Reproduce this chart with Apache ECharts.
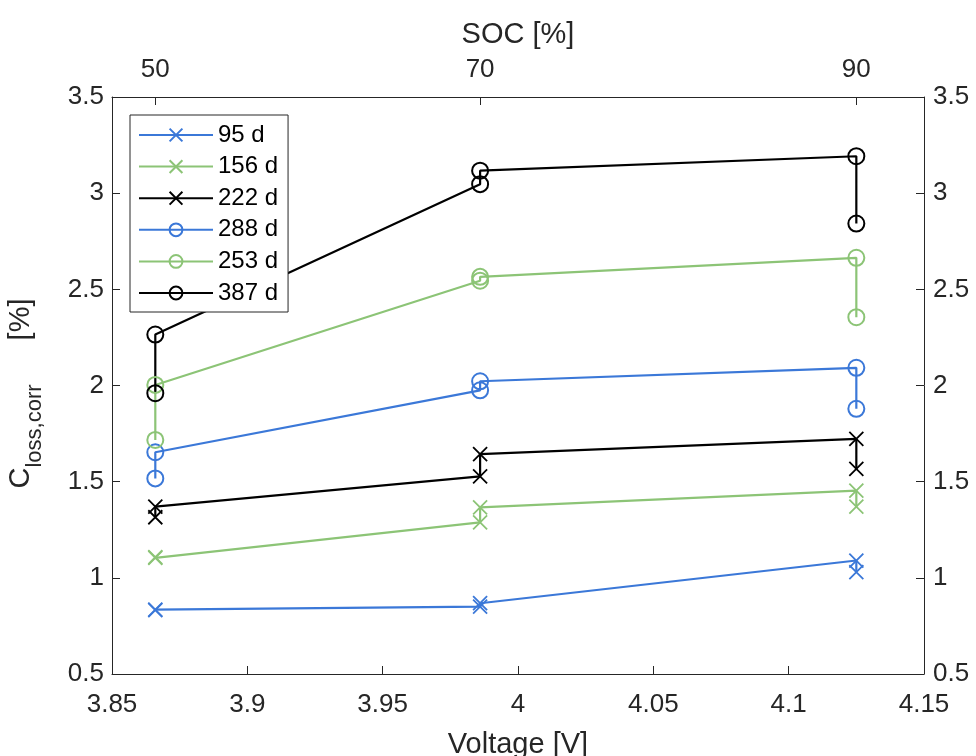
<!DOCTYPE html>
<html>
<head>
<meta charset="utf-8">
<script src="https://cdn.jsdelivr.net/npm/echarts@6/dist/echarts.min.js"></script>
<style>html,body{margin:0;padding:0;background:#fff}#c{width:976px;height:756px}</style>
</head>
<body>
<div id="c"></div>
<script>
// Voltage positions of the three SOC levels (each measured twice)
const voltageX = [3.866, 3.866, 3.986, 3.986, 4.125, 4.125];
const socTickVoltage = [3.866, 3.986, 4.125];
const socTickLabels = ['50', '70', '90'];
const voltageTicks = [3.85, 3.9, 3.95, 4.0, 4.05, 4.1, 4.15];

const seriesNames = ['95 d', '156 d', '222 d', '288 d', '253 d', '387 d'];
const s95 = [0.835, 0.832, 0.850, 0.868, 1.090, 1.030];
const s156 = [1.104, 1.108, 1.288, 1.366, 1.453, 1.370];
const s222 = [1.315, 1.370, 1.528, 1.643, 1.722, 1.566];
const s288 = [1.517, 1.653, 1.975, 2.022, 2.092, 1.879];
const s253 = [1.717, 2.003, 2.545, 2.565, 2.664, 2.355];
const s387 = [1.960, 2.265, 3.047, 3.117, 3.192, 2.842];

const BLUE = '#3b78d8', GREEN = '#8cc476', BLACK = '#000000';
const XSYM = 'path://M0,0L10,10M10,0L0,10';

function mk(name, ys, color, marker) {
  const isX = marker === 'x';
  return {
    name: name, type: 'line',
    data: ys.map((y, i) => [voltageX[i], y]),
    symbol: isX ? XSYM : 'circle',
    symbolSize: isX ? 14 : 16,
    showSymbol: true,
    color: color,
    lineStyle: { color: color, width: 2.2 },
    itemStyle: { color: 'transparent', borderColor: color, borderWidth: isX ? 1.8 : 2 },
    emphasis: { disabled: true },
    animation: false
  };
}

const axisCol = '#262626';
const font = 'Liberation Sans, Arial, sans-serif';
const chart = echarts.init(document.getElementById('c'));
chart.setOption({
  backgroundColor: '#fff',
  animation: false,
  grid: { left: 112, right: 52, top: 97, bottom: 82, containLabel: false, outerBoundsMode: 'none' },
  legend: {
    orient: 'vertical', left: 130, top: 115,
    data: seriesNames,
    backgroundColor: '#fff', borderColor: axisCol, borderWidth: 1,
    padding: [8, 10, 7, 8],
    itemWidth: 74, itemHeight: 16, itemGap: 7.6,
    textStyle: { fontSize: 24, fontFamily: font, color: '#000' }
  },
  xAxis: [{
    type: 'value', min: 3.85, max: 4.15, interval: 0.05, position: 'bottom',
    name: 'Voltage [V]', nameLocation: 'middle', nameGap: 56,
    nameTextStyle: { fontSize: 29, fontFamily: font, color: '#262626' },
    axisLine: { show: true, onZero: false, lineStyle: { color: axisCol, width: 1 } },
    axisTick: { show: true, inside: true, length: 8, lineStyle: { color: axisCol } },
    axisLabel: { fontSize: 26, fontFamily: font, color: '#262626', margin: 18,
      formatter: v => { const t = voltageTicks.find(a => Math.abs(a - v) < 1e-6); return t === undefined ? '' : (Math.abs(t - 4) < 1e-9 ? '4' : String(t)); } },
    splitLine: { show: false }
  }, {
    type: 'value', min: 3.85, max: 4.15, position: 'top',
    name: 'SOC [%]', nameLocation: 'middle', nameGap: 48,
    nameTextStyle: { fontSize: 29, fontFamily: font, color: '#262626' },
    axisLine: { show: true, onZero: false, lineStyle: { color: axisCol, width: 1 } },
    axisTick: { show: true, inside: true, length: 8, customValues: socTickVoltage, lineStyle: { color: axisCol } },
    axisLabel: { fontSize: 26, fontFamily: font, color: '#262626', margin: 14, customValues: socTickVoltage,
      formatter: v => { const i = socTickVoltage.findIndex(a => Math.abs(a - v) < 1e-6); return i < 0 ? '' : socTickLabels[i]; } },
    splitLine: { show: false }
  }],
  yAxis: [{
    type: 'value', min: 0.5, max: 3.5, interval: 0.5, position: 'left',
    name: '{n|C}{s|loss,corr}{p|[%]}', nameLocation: 'middle', nameGap: 66, nameRotate: 90,
    nameTextStyle: { fontFamily: font, color: '#262626',
      rich: { n: { fontSize: 29, fontFamily: font, color: '#262626', lineHeight: 40, verticalAlign: 'top' },
              p: { fontSize: 29, fontFamily: font, color: '#262626', lineHeight: 40, verticalAlign: 'top', padding: [0, 16, 0, 44] },
              s: { fontSize: 22, fontFamily: font, color: '#262626', lineHeight: 40, verticalAlign: 'bottom', padding: [12, 0, 0, 0] } } },
    axisLine: { show: true, onZero: false, lineStyle: { color: axisCol, width: 1 } },
    axisTick: { show: true, inside: true, length: 8, lineStyle: { color: axisCol } },
    axisLabel: { fontSize: 26, fontFamily: font, color: '#262626', margin: 8 },
    splitLine: { show: false }
  }, {
    type: 'value', min: 0.5, max: 3.5, interval: 0.5, position: 'right',
    axisLine: { show: true, onZero: false, lineStyle: { color: axisCol, width: 1 } },
    axisTick: { show: true, inside: true, length: 8, lineStyle: { color: axisCol } },
    axisLabel: { fontSize: 26, fontFamily: font, color: '#262626', margin: 9 },
    splitLine: { show: false }
  }],
  series: [
    mk(seriesNames[0], s95, BLUE, 'x'),
    mk(seriesNames[1], s156, GREEN, 'x'),
    mk(seriesNames[2], s222, BLACK, 'x'),
    mk(seriesNames[3], s288, BLUE, 'o'),
    mk(seriesNames[4], s253, GREEN, 'o'),
    mk(seriesNames[5], s387, BLACK, 'o')
  ]
});
</script>
</body>
</html>
